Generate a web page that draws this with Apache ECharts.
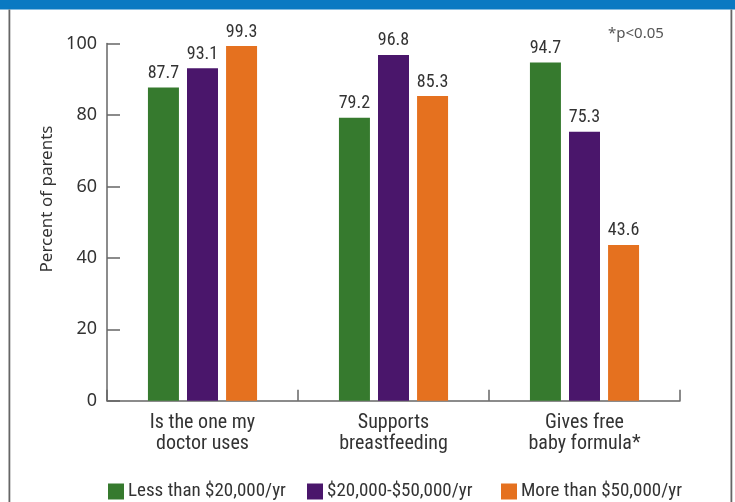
<!DOCTYPE html>
<html>
<head>
<meta charset="utf-8">
<script src="https://cdn.jsdelivr.net/npm/echarts@6/dist/echarts.min.js"></script>
<style>
  html, body { margin: 0; padding: 0; background: #fff; }
  #chart { width: 735px; height: 502px; }
</style>
</head>
<body>
<div id="chart"></div>
<script>
// Reasons parents chose their infant formula brand, by household income
const categories = ['Is the one my\ndoctor uses', 'Supports\nbreastfeeding', 'Gives free\nbaby formula*'];
const seriesNames = ['Less than $20,000/yr', '$20,000-$50,000/yr', 'More than $50,000/yr'];
const lowIncome = [87.7, 79.2, 94.7];
const midIncome = [93.1, 96.8, 75.3];
const highIncome = [99.3, 85.3, 43.6];
const yTicks = [0, 20, 40, 60, 80, 100];

const colors = ['#367a2e', '#4a166b', '#e5711f'];
const condensed = '"Liberation Sans Narrow", "Roboto Condensed", "Arial Narrow", sans-serif';
const regular = '"Noto Sans", "Open Sans", sans-serif';
const textColor = '#333333';
const axisColor = '#666666';
const legendLefts = [103, 302, 496];

const chart = echarts.init(document.getElementById('chart'));

function barSeries(name, values, color) {
  return {
    name: name,
    type: 'bar',
    data: values,
    barWidth: 31,
    barGap: '26%',
    itemStyle: { color: color },
    label: {
      show: true,
      position: 'top',
      distance: 5,
      color: textColor,
      fontFamily: condensed,
      fontSize: 18,
      formatter: p => p.value.toFixed(1)
    }
  };
}

// One legend entry per income group, laid out along the bottom
const legends = seriesNames.map((name, i) => ({
  data: [name],
  left: legendLefts[i],
  top: 477,
  itemWidth: 16,
  itemHeight: 16,
  icon: 'rect',
  textStyle: { color: textColor, fontFamily: condensed, fontSize: 19, padding: [0, 0, 0, -1] }
}));

chart.setOption({
  animation: false,
  grid: { left: 107, right: 55, top: 43.5, bottom: 101.3, containLabel: false },
  legend: legends,
  xAxis: {
    type: 'category',
    data: categories,
    axisLine: { lineStyle: { color: axisColor, width: 1.5 } },
    axisTick: { show: true, inside: true, length: 11, lineStyle: { color: axisColor, width: 1.5 } },
    axisLabel: {
      color: textColor,
      fontFamily: condensed,
      fontSize: 20,
      lineHeight: 21,
      margin: 12
    }
  },
  yAxis: {
    type: 'value',
    min: yTicks[0],
    max: yTicks[yTicks.length - 1],
    interval: 20,
    axisLine: { show: true, lineStyle: { color: axisColor, width: 1.5 } },
    axisTick: { show: true, inside: true, length: 13, lineStyle: { color: axisColor, width: 1.5 } },
    splitLine: { show: false },
    axisLabel: {
      color: textColor,
      fontFamily: regular,
      fontSize: 18,
      margin: 10
    }
  },
  series: [
    barSeries(seriesNames[0], lowIncome, colors[0]),
    barSeries(seriesNames[1], midIncome, colors[1]),
    barSeries(seriesNames[2], highIncome, colors[2])
  ],
  graphic: [
    // Panel frame: blue header strip and grey side rules
    { type: 'rect', left: 0, top: 0, shape: { width: 735, height: 9.5 }, style: { fill: '#0a79c2' }, silent: true },
    { type: 'rect', left: 8.5, top: 9.5, shape: { width: 1.8, height: 493 }, style: { fill: '#666666' }, silent: true },
    { type: 'rect', left: 730.5, top: 9.5, shape: { width: 1.8, height: 493 }, style: { fill: '#666666' }, silent: true },
    // Vertical axis title
    {
      type: 'text',
      x: 47.5, y: 199,
      rotation: Math.PI / 2,
      style: {
        text: 'Percent of parents',
        fill: textColor,
        font: '17px ' + regular,
        textAlign: 'center',
        textVerticalAlign: 'middle'
      }
    },
    // Significance note
    {
      type: 'text',
      left: 608, top: 26,
      style: { text: '*p<0.05', fill: '#555555', font: '15px ' + regular }
    }
  ]
});
</script>
</body>
</html>
